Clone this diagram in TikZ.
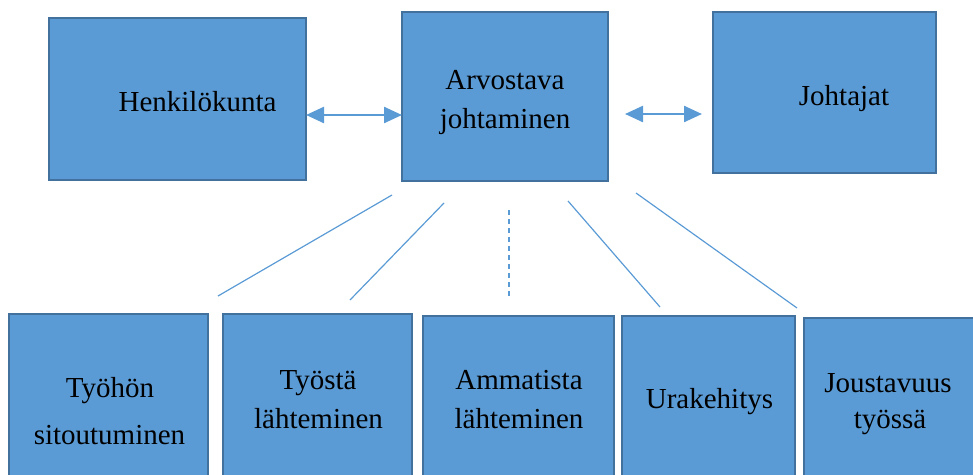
\documentclass[tikz,border=0pt]{standalone}
\usepackage{fontspec}
\setmainfont{Liberation Serif}
\usetikzlibrary{arrows.meta}

\definecolor{boxfill}{HTML}{5B9BD5}
\definecolor{boxline}{HTML}{41719C}

\tikzset{
  box/.style={draw=boxline, line width=2.5pt, fill=boxfill, rectangle,
    inner sep=0pt, outer sep=0pt},
  lbl/.style={anchor=base, inner sep=0pt, font=\fontsize{29}{34}\selectfont},
  biarrow/.style={draw=boxfill, line width=2.4pt,
    {Triangle[length=18pt,width=16pt]}-{Triangle[length=18pt,width=16pt]}},
  thin/.style={draw=boxfill, line width=1.2pt}
}

\begin{document}
\begin{tikzpicture}[x=1pt,y=-1pt]
    \useasboundingbox (0,0) rectangle (973,474);
    \clip (0,0) rectangle (973,474);
    \begin{scope}
      % top row
      \node[box, minimum width=257pt, minimum height=162pt] (henk) at (177.5,99) {};
      \node[box, minimum width=206pt, minimum height=169pt] (arvo) at (505,96.5) {};
      \node[box, minimum width=223pt, minimum height=161pt] (joht) at (824.5,92.5) {};
      \node[lbl] (henkT) at (197.5,111) {Henkilökunta};
      \node[lbl] (arvoA) at (505,89) {Arvostava};
      \node[lbl] (arvoB) at (505,128) {johtaminen};
      \node[lbl] (johtT) at (844,105) {Johtajat};
      % bottom row
      \node[box, minimum width=199pt, minimum height=176pt] (sito) at (108.5,402) {};
      \node[box, minimum width=189pt, minimum height=176pt] (tyos) at (317.5,402) {};
      \node[box, minimum width=191pt, minimum height=174pt] (amma) at (518.5,403) {};
      \node[box, minimum width=173pt, minimum height=174pt] (ura) at (708.5,403) {};
      \node[box, minimum width=176pt, minimum height=172pt] (jous) at (892,404) {};
      \node[lbl] (sitoA) at (110,397) {Työhön};
      \node[lbl] (sitoB) at (109.5,444) {sitoutuminen};
      \node[lbl] (tyosA) at (318,389) {Työstä};
      \node[lbl] (tyosB) at (318.5,428) {lähteminen};
      \node[lbl] (ammaA) at (519,389) {Ammatista};
      \node[lbl] (ammaB) at (519,428) {lähteminen};
      \node[lbl] (uraT) at (709.5,408) {Urakehitys};
      \node[lbl] (jousA) at (888,392) {Joustavuus};
      \node[lbl] (jousB) at (890,428) {työssä};
      % arrows
      \draw[biarrow] (henk.east |- 0,115) -- (arvo.west |- 0,115);
      \coordinate (a2l) at (625,114);
      \coordinate (a2r) at (702,114);
      \draw[biarrow] (a2l) -- (a2r);
      % lines
      \coordinate (l1a) at (392,195); \coordinate (l1b) at (218,296);
      \coordinate (l2a) at (444,203); \coordinate (l2b) at (350,300);
      \coordinate (l3a) at (509,210); \coordinate (l3b) at (509,296);
      \coordinate (l4a) at (568,201); \coordinate (l4b) at (660,307);
      \coordinate (l5a) at (636,193); \coordinate (l5b) at (797,308);
      \draw[thin] (l1a) -- (l1b);
      \draw[thin] (l2a) -- (l2b);
      \draw[thin, dash pattern=on 5pt off 4pt] (l3a) -- (l3b);
      \draw[thin] (l4a) -- (l4b);
      \draw[thin] (l5a) -- (l5b);
    \end{scope}
  \end{tikzpicture}
\end{document}
